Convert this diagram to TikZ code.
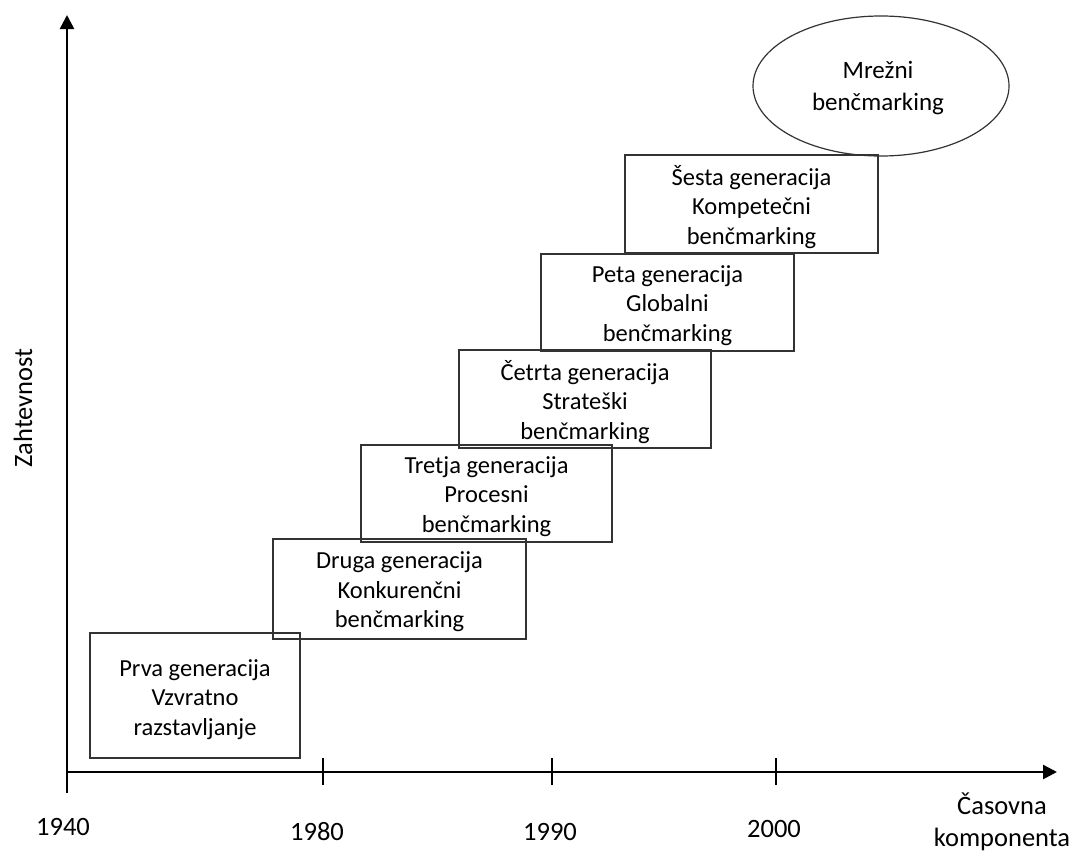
\documentclass[tikz,border=0pt]{standalone}
\usepackage{fontspec}
\setmainfont{Carlito}
\usetikzlibrary{arrows.meta,shapes.geometric}
\begin{document}
\begin{tikzpicture}[x=1pt,y=-1pt,
  axis/.style={line width=2.5pt,-{Triangle[length=14pt,width=14pt]}},
  tick/.style={line width=2.2pt},
  genbox/.style={draw=black!80,line width=1.2pt,rectangle,align=center,
    font=\fontsize{24.5}{29.5}\selectfont,inner sep=0pt},
  gentext/.style={align=center,font=\fontsize{24.5}{29.5}\selectfont,inner sep=0pt},
  lbl/.style={font=\fontsize{26.5}{32.5}\selectfont,align=center,inner sep=0pt}]
\useasboundingbox (0,0) rectangle (1073,854);

% axes
\coordinate (O) at (67,772);
\coordinate (ybot) at (67,793);
\coordinate (ytop) at (67,15);
\coordinate (xend) at (1057,772);
\draw[axis] (ybot) -- (ytop);
\draw[axis] (O) -- (xend);

% ticks
\foreach \x/\n in {323/t1,552/t2,776/t3}{
  \coordinate (\n a) at (\x,758);
  \coordinate (\n b) at (\x,785);
  \draw[tick] (\n a) -- (\n b);
}

% generation boxes
\node[genbox,minimum width=210pt,minimum height=125pt] (g1) at (195,695.5) {};
\node[genbox,minimum width=253pt,minimum height=100pt] (g2) at (399.5,589) {};
\node[genbox,minimum width=251pt,minimum height=97pt] (g3) at (486.5,493.5) {};
\node[genbox,minimum width=252pt,minimum height=98pt] (g4) at (585,399) {};
\node[genbox,minimum width=253pt,minimum height=97pt] (g5) at (667.5,302.5) {};
\node[genbox,minimum width=253pt,minimum height=98pt] (g6) at (751.5,204) {};

% generation texts, set a little below the box centres
\node[gentext] (g1t) at ([yshift=-4pt]g1.center) {Prva generacija\\Vzvratno\\razstavljanje};
\node[gentext] (g2t) at ([yshift=-3pt]g2.center) {Druga generacija\\Konkurenčni\\benčmarking};
\node[gentext] (g3t) at ([yshift=-3pt]g3.center) {Tretja generacija\\Procesni\\benčmarking};
\node[gentext] (g4t) at ([yshift=-3pt]g4.center) {Četrta generacija\\Strateški\\benčmarking};
\node[gentext] (g5t) at ([yshift=-3pt]g5.center) {Peta generacija\\Globalni\\benčmarking};
\node[gentext] (g6t) at ([yshift=-3pt]g6.center) {Šesta generacija\\Kompetečni\\benčmarking};

% network benchmarking
\node[draw=black!80,line width=1.2pt,ellipse,minimum width=256pt,minimum height=140pt,
  inner sep=0pt] (net) at (881,86) {};
\node[gentext,font=\fontsize{25}{31.5}\selectfont] (nettxt) at (878,88)
  {Mrežni\\benčmarking};

% axis labels
\node[lbl] (y1940) at (63,827) {1940};
\node[lbl] (y1980) at (317,832) {1980};
\node[lbl] (y1990) at (550,832) {1990};
\node[lbl] (y2000) at (774,829) {2000};
\node[lbl] (xlab) at (1002,822) {Časovna\\komponenta};
\node[lbl,rotate=90] (ylab) at (23,408) {Zahtevnost};
\end{tikzpicture}
\end{document}
